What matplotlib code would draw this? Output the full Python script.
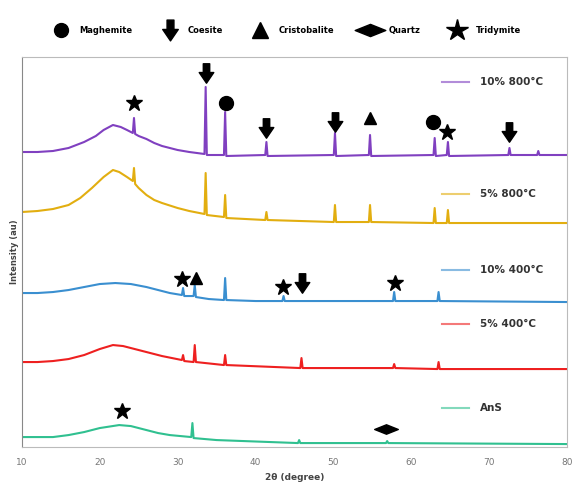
import matplotlib
matplotlib.use("Agg")
import matplotlib.pyplot as plt
from matplotlib.path import Path
from matplotlib.lines import Line2D

# --- data (2theta, intensity in arbitrary units) ---
purple_x = [10, 12, 14, 16, 18, 19.5, 20.5, 21.7, 22.7, 23.5, 24.25, 24.4, 24.55, 25, 26, 27, 28,
            29, 30, 31.5, 33.45, 33.6, 33.75, 35.95, 36.1, 36.25, 41.25, 41.4, 41.55,
            50.05, 50.2, 50.35, 54.55, 54.7, 54.85, 62.85, 63.0, 63.15, 64.55, 64.7, 64.85,
            72.45, 72.6, 72.75, 76.15, 76.3, 76.45, 80]
purple_y = [295, 295, 296, 299, 305, 311, 317, 322, 320, 317, 314, 329, 313, 311, 308, 304, 301,
            299, 297, 295, 293, 360, 292, 292, 335, 291, 292, 305, 291,
            292, 314, 291, 292, 312, 291, 292, 309, 291, 292, 305, 291,
            292, 299, 292, 292, 296, 292, 292]

yellow_x = [10, 12, 14, 16, 17.5, 19, 20.5, 21.7, 22.5, 23.5, 24.25, 24.4, 24.55, 25, 26, 27,
            28, 30, 31.5, 33.45, 33.6, 33.75, 35.95, 36.1, 36.25, 41.25, 41.4, 41.55,
            50.05, 50.2, 50.35, 54.55, 54.7, 54.85, 62.85, 63.0, 63.15, 64.55, 64.7, 64.85, 80]
yellow_y = [235, 236, 238, 242, 249, 259, 270, 277, 275, 270, 266, 279, 263, 259, 252, 247,
            244, 239, 236, 233, 274, 232, 230, 252, 229, 227, 235, 227,
            225, 242, 225, 225, 242, 225, 224, 239, 224, 224, 237, 224, 224]

blue_x = [10, 12, 14, 16, 18, 20, 22, 24, 26, 27.5, 29, 30.55, 30.7, 30.85, 32.05, 32.2, 32.35,
          34, 35.95, 36.1, 36.25, 40, 43.45, 43.6, 43.75, 57.65, 57.8, 57.95,
          63.35, 63.5, 63.65, 80]
blue_y = [154, 154, 155, 157, 160, 163, 164, 163, 160, 157, 154, 152, 159, 151, 151, 162, 150,
          148, 147, 169, 147, 146, 146, 151, 146, 146, 155, 146,
          146, 155, 146, 145]

red_x = [10, 12, 14, 16, 18, 20, 21.7, 23, 25, 26.5, 28, 30.55, 30.7, 30.85, 32.05, 32.2, 32.35,
         35.95, 36.1, 36.25, 45.75, 45.9, 46.05, 57.65, 57.8, 57.95, 63.35, 63.5, 63.65, 80]
red_y = [85, 85, 86, 88, 92, 98, 102, 101, 97, 94, 91, 87, 92, 86, 85, 102, 85,
         82, 92, 82, 79, 89, 79, 79, 83, 79, 78, 85, 78, 78]

green_x = [10, 12, 14, 16, 18, 20, 22.5, 24, 26, 27.5, 29, 31.75, 31.9, 32.05, 35,
           45.45, 45.6, 45.75, 56.75, 56.9, 57.05, 80]
green_y = [10, 10, 10, 12, 15, 19, 22, 21, 17, 14, 12, 10, 24, 9, 7,
           4, 7, 4, 4, 6, 4, 3]

series_names = ["10% 800°C", "5% 800°C", "10% 400°C", "5% 400°C", "AnS"]
series_colors = ["#8040C0", "#E2AE10", "#3A8FD0", "#EE2020", "#30C090"]

# phase markers above peaks (2theta, intensity)
maghemite_pts = [(36.2, 344), (62.8, 325)]
coesite_pts = [(33.6, 374), (41.4, 319), (50.2, 325), (72.6, 315), (46.0, 164)]
cristobalite_pts = [(54.7, 329), (32.3, 169)]
quartz_pts = [(56.7, 18)]
tridymite_pts = [(24.4, 344), (64.6, 315), (30.6, 168), (43.5, 160), (57.9, 164), (22.8, 36)]

x_ticks = [10, 20, 30, 40, 50, 60, 70, 80]

# custom marker shapes
arrow = Path([(-0.33, 1), (0.33, 1), (0.33, 0.1), (0.75, 0.1), (0, -1), (-0.75, 0.1),
              (-0.33, 0.1), (-0.33, 1)], closed=True)
diamond = Path([(-1, 0), (0, 0.4), (1, 0), (0, -0.4), (-1, 0)], closed=True)

fig = plt.figure(figsize=(5.74, 4.87), dpi=100)
ax = fig.add_axes([0.038, 0.082, 0.95, 0.801])

all_x = [purple_x, yellow_x, blue_x, red_x, green_x]
all_y = [purple_y, yellow_y, blue_y, red_y, green_y]
for xs, ys, c in zip(all_x, all_y, series_colors):
    ax.plot(xs, ys, color=c, lw=1.5, solid_joinstyle="round")

phases = [(maghemite_pts, "o", 10), (coesite_pts, arrow, 14), (cristobalite_pts, "^", 9),
          (quartz_pts, diamond, 17), (tridymite_pts, "*", 12)]
for pts, mk, ms in phases:
    ax.plot([p[0] for p in pts], [p[1] for p in pts], ls="none", marker=mk,
            ms=ms, color="black")

# per-series labels at the right
leg_y = [0.935, 0.65, 0.455, 0.315, 0.10]
for name, c, yy in zip(series_names, series_colors, leg_y):
    ax.plot([0.77, 0.82], [yy, yy], color=c, lw=1.5, alpha=0.6, transform=ax.transAxes)
    ax.text(0.84, yy, name, transform=ax.transAxes, va="center", ha="left",
            fontsize=7.5, fontweight="bold", color="#333333")

ax.set_xlim(10, 80)
ax.set_ylim(0, 390)
ax.set_xticks(x_ticks)
ax.set_yticks([])
ax.tick_params(axis="x", length=0, labelsize=6.5, labelcolor="#777777", pad=8)
for s in ax.spines.values():
    s.set_color("#BBBBBB")
ax.spines["left"].set_color("#888888")
ax.set_xlabel("2θ (degree)", fontsize=6.5, fontweight="bold", color="#444444", labelpad=4)
ax.set_ylabel("Intensity (au)", fontsize=6, fontweight="bold", color="#444444", labelpad=2)

handles = [Line2D([], [], ls="none", marker="o", ms=10, color="black"),
           Line2D([], [], ls="none", marker=arrow, ms=15, color="black"),
           Line2D([], [], ls="none", marker="^", ms=11, color="black"),
           Line2D([], [], ls="none", marker=diamond, ms=22, color="black"),
           Line2D([], [], ls="none", marker="*", ms=16, color="black")]
labels = ["Maghemite", "Coesite", "Cristobalite", "Quartz", "Tridymite"]
fig.legend(handles, labels, loc="center", bbox_to_anchor=(0.5, 0.938), ncol=5,
           frameon=False, columnspacing=3.4, handletextpad=1.2,
           prop={"weight": "bold", "size": 6})

fig.savefig("out.png", dpi=100)
